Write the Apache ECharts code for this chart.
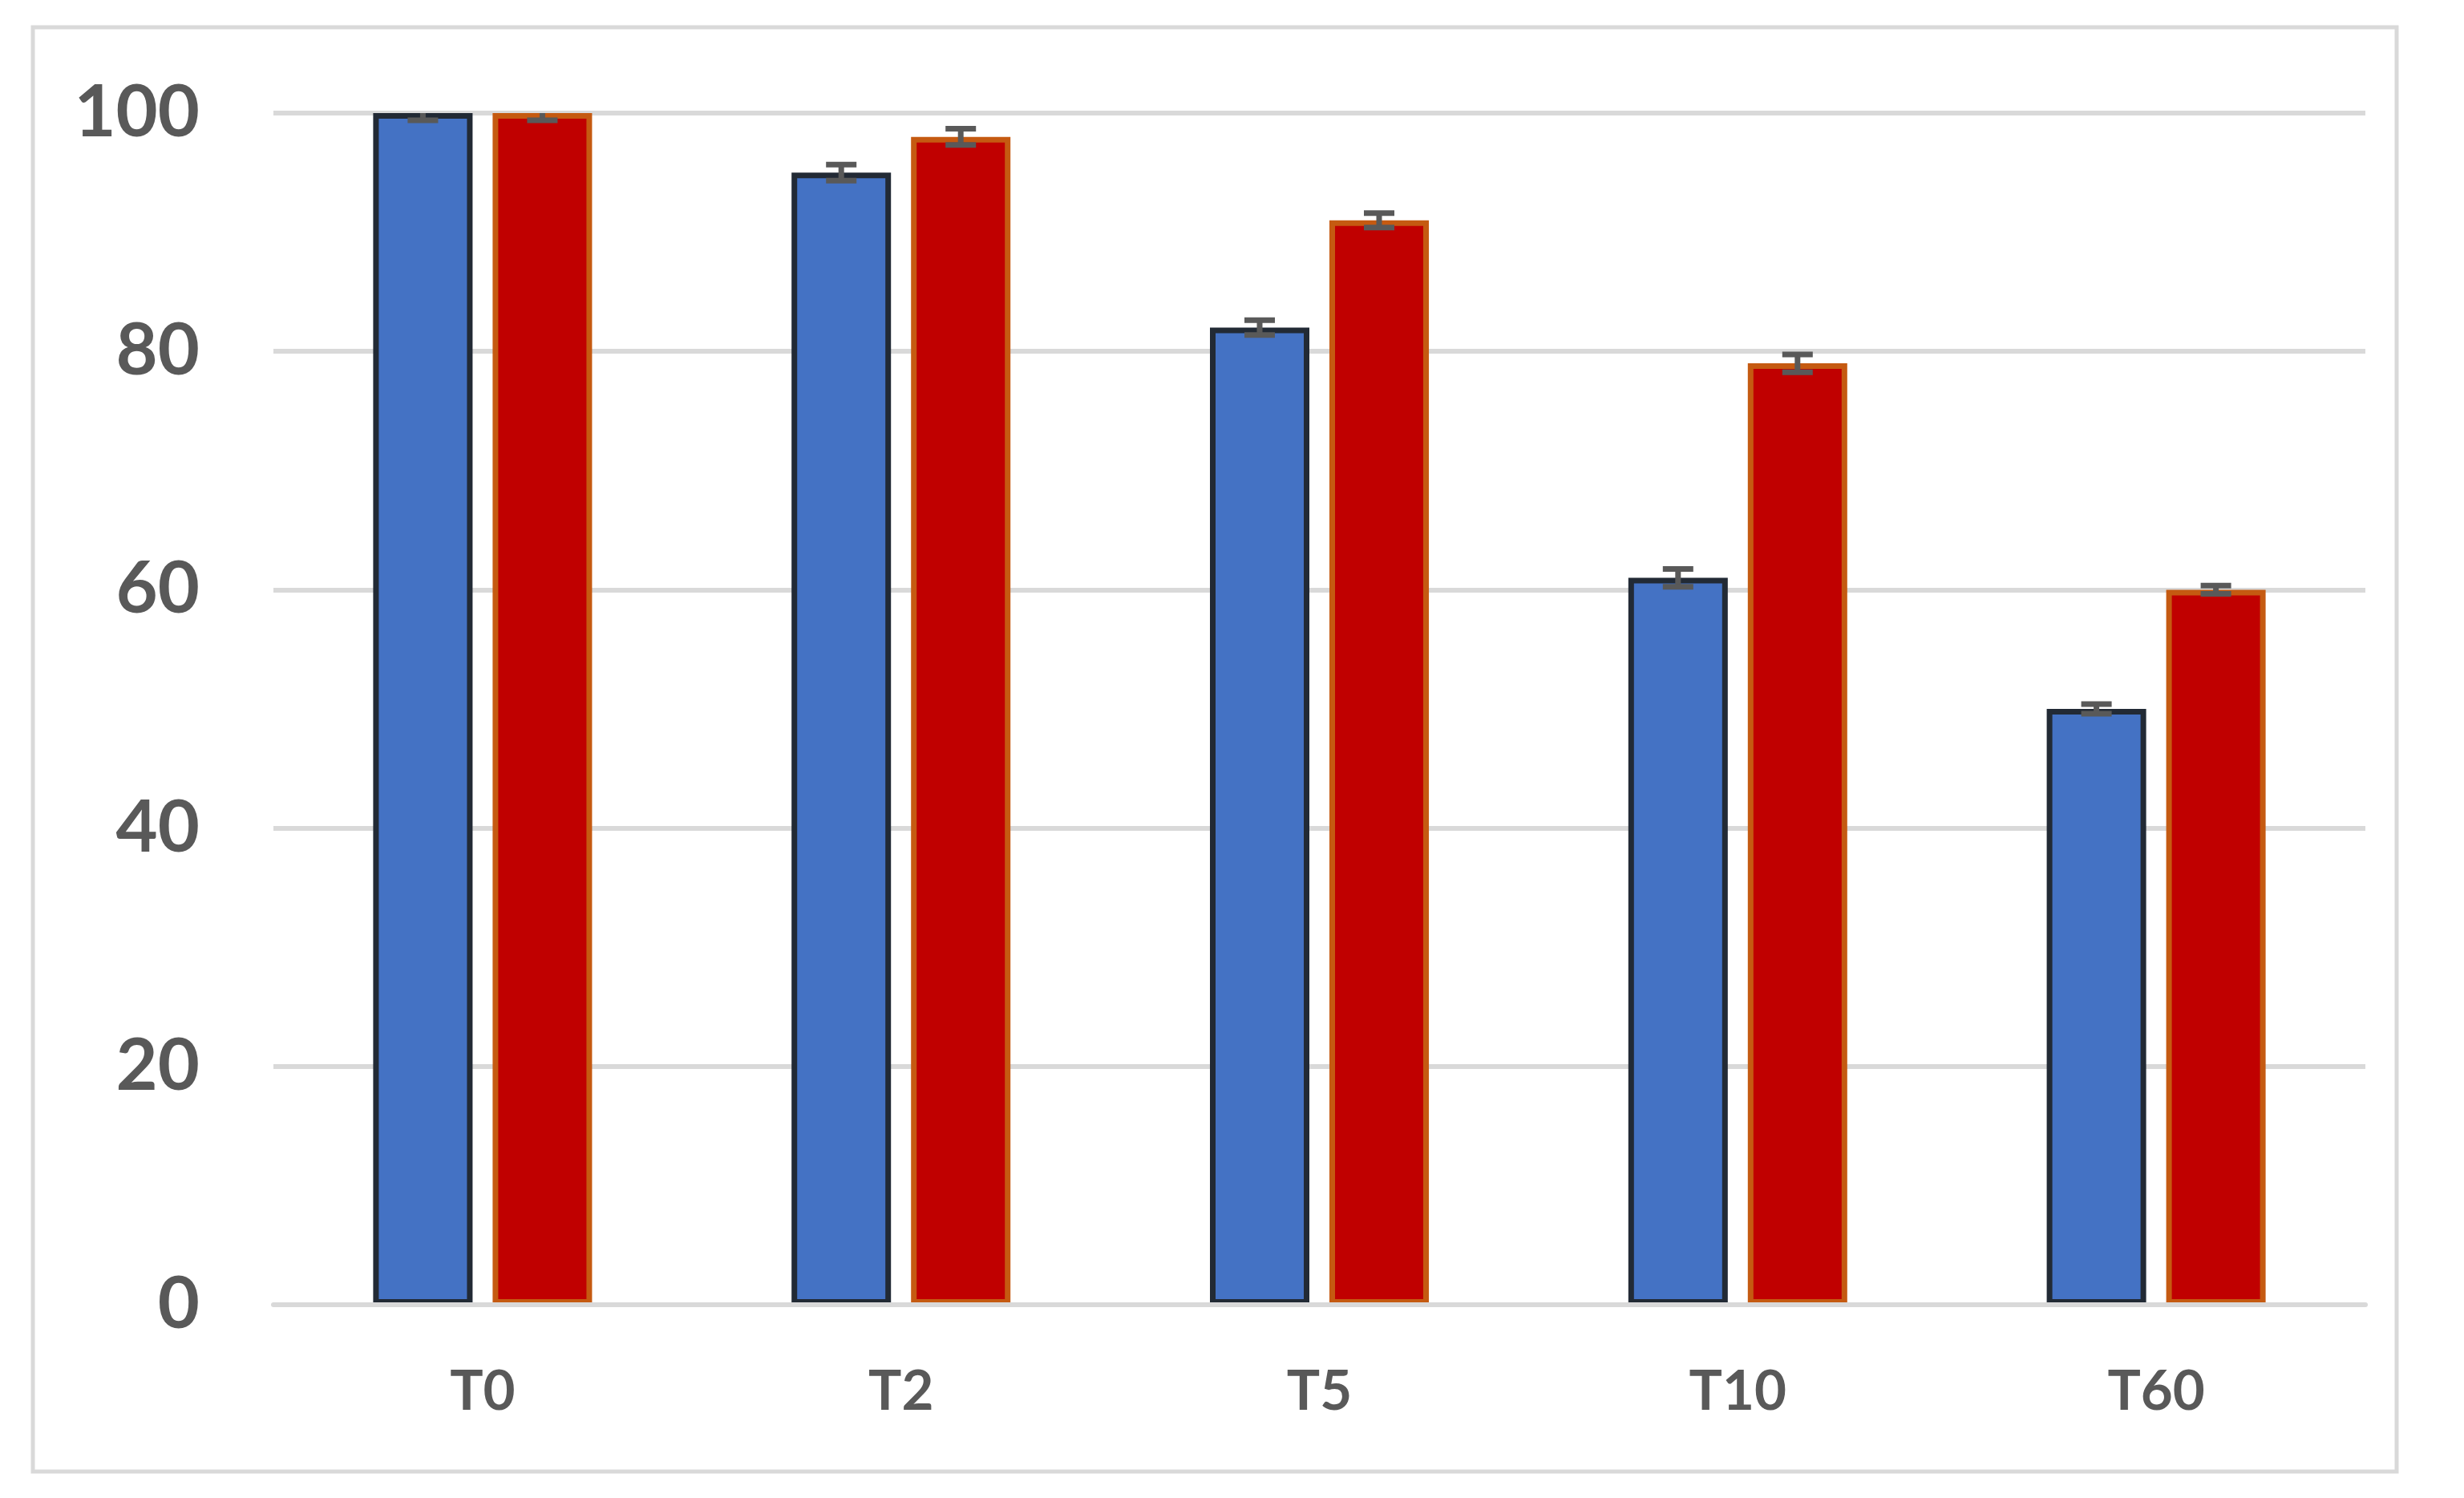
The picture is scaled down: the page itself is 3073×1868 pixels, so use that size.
<!DOCTYPE html>
<html>
<head>
<meta charset="utf-8">
<script src="https://cdn.jsdelivr.net/npm/echarts@6/dist/echarts.min.js"></script>
<style>
html,body{margin:0;padding:0;background:#fff;}
#chart{width:3073px;height:1868px;}
</style>
</head>
<body>
<div id="chart"></div>
<script>
const categories = ['T0', 'T2', 'T5', 'T10', 'T60'];
const seriesA = [100, 95, 82, 61, 50];
const seriesB = [100, 98, 91, 79, 60];
const errA = [0.6, 0.67, 0.62, 0.75, 0.4];
const errB = [0.6, 0.68, 0.6, 0.75, 0.35];
const yTicks = [0, 20, 40, 60, 80, 100];

const BAR_W = 124;
const GAP_PX = 25;
const OFFSET = (BAR_W + GAP_PX) / 2;

function errRender(offset) {
  return function (params, api) {
    const idx = api.value(0);
    const v = api.value(1);
    const e = api.value(2);
    const x = api.coord([idx, v])[0] + offset;
    const yT = api.coord([idx, v + e])[1];
    const yB = api.coord([idx, v - e])[1];
    const c = '#595959';
    const h = 19;
    return {
      type: 'group',
      children: [
        {type: 'line', shape: {x1: x, y1: yT, x2: x, y2: yB}, style: {stroke: c, lineWidth: 7}},
        {type: 'line', shape: {x1: x - h, y1: yT, x2: x + h, y2: yT}, style: {stroke: c, lineWidth: 7}},
        {type: 'line', shape: {x1: x - h, y1: yB, x2: x + h, y2: yB}, style: {stroke: c, lineWidth: 7}}
      ]
    };
  };
}

const chart = echarts.init(document.getElementById('chart'), null, {renderer: 'canvas'});
chart.setOption({
  backgroundColor: '#ffffff',
  animation: false,
  graphic: [{
    type: 'rect',
    shape: {x: 41, y: 34, width: 2948, height: 1801},
    style: {fill: 'none', stroke: '#d9d9d9', lineWidth: 5},
    z: -10
  }],
  grid: {left: 341, right: 123, top: 141, bottom: 241, containLabel: false},
  xAxis: {
    type: 'category',
    data: categories,
    z: 5,
    axisLine: {show: true, lineStyle: {color: '#d9d9d9', width: 6}},
    axisTick: {show: false},
    axisLabel: {
      color: '#595959', fontFamily: 'Lato', fontWeight: 'bold', fontSize: 69, margin: 74
    }
  },
  yAxis: {
    type: 'value',
    min: 0, max: 100, interval: 20,
    axisLine: {show: false},
    axisTick: {show: false},
    splitLine: {show: true, lineStyle: {color: '#d9d9d9', width: 6}},
    axisLabel: {
      color: '#595959', fontFamily: 'Lato', fontWeight: 'bold', fontSize: 90, margin: 92,
      formatter: function (v) { return yTicks.indexOf(v) >= 0 ? String(v) : ''; }
    }
  },
  series: [
    {
      type: 'bar', data: seriesA, barWidth: BAR_W, barGap: (GAP_PX / BAR_W * 100).toFixed(2) + '%',
      itemStyle: {color: '#4472c4', borderColor: '#222a35', borderWidth: 7}
    },
    {
      type: 'bar', data: seriesB, barWidth: BAR_W,
      itemStyle: {color: '#c00000', borderColor: '#c55a11', borderWidth: 7}
    },
    {
      type: 'custom', z: 10, clip: true,
      renderItem: errRender(-OFFSET),
      data: seriesA.map((v, i) => [i, v, errA[i]])
    },
    {
      type: 'custom', z: 10, clip: true,
      renderItem: errRender(OFFSET),
      data: seriesB.map((v, i) => [i, v, errB[i]])
    }
  ]
});
</script>
</body>
</html>
